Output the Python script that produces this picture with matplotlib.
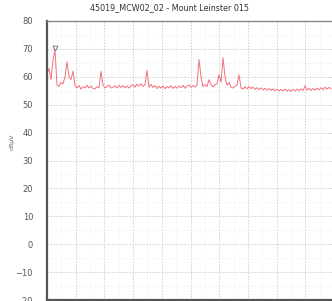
import numpy as np
import matplotlib
matplotlib.use("Agg")
import matplotlib.pyplot as plt
from matplotlib.ticker import MultipleLocator

title = "45019_MCW02_02 - Mount Leinster 015"
ylabel = "dBµV"
y_ticks = [-20, -10, 0, 10, 20, 30, 40, 50, 60, 70, 80]

# measured level per frequency bin (dBµV)
level = [
    61, 63, 59, 66, 69.6, 57, 56.5, 58, 57.5, 60,
    65.3, 60, 59, 62, 57, 56, 56.9, 55.6, 56.5, 56,
    57.0, 56.0, 56.7, 55.8, 55.7, 56.5, 56, 61.9, 57, 56,
    56.6, 57.0, 56.0, 56.2, 56.8, 56.0, 57.0, 56.2, 56.9, 56.0,
    56.7, 56, 56.8, 57.2, 56.3, 57.4, 56.6, 57.6, 56.5, 57.1,
    62.3, 56.2, 57.3, 56.2, 56.9, 55.8, 56.6, 55.9, 56.7, 55.7,
    56.5, 56.0, 56.8, 55.8, 56.6, 55.9, 56.7, 56.1, 57.0, 55.9,
    56.7, 57.1, 56.2, 56.9, 56.3, 57.1, 66.2, 60, 56.5, 57.2,
    56.5, 59, 57.3, 56.4, 57.1, 57.6, 60.7, 58, 66.8, 60,
    57, 58, 56.2, 56, 56.6, 57, 60.7, 56, 55.6, 56.4,
    55.7, 56.5, 55.8, 56.3, 55.5, 56.1, 55.4, 56.0, 55.3, 55.9,
    55.2, 55.8, 55.1, 55.7, 55.0, 55.6, 54.9, 55.5, 55.0, 55.6,
    54.9, 55.4, 54.8, 55.5, 54.9, 55.6, 55.0, 55.7, 55.1, 56.8,
    55.2, 55.9, 55.1, 55.8, 55.2, 56.0, 55.3, 56.1, 55.4, 56.3,
    55.6, 56.2, 55.7,
]
bin_width = 2 / 28.7
freq = np.arange(len(level)) * bin_width
peak_idx = 4

fig = plt.figure(figsize=(3.32, 3.01), dpi=100)
ax = fig.add_axes([47 / 332, 1 / 301, 290 / 332, 279 / 301])

ax.plot(freq, level, color="#f2707c", lw=0.7)
ax.plot([freq[peak_idx]], [level[peak_idx] + 0.8], marker="v", ms=3.5,
        mfc="white", mec="#777777", mew=0.7, ls="none")

ax.set_xlim(0, 290 / 28.7)
ax.set_ylim(-20, 80)
ax.set_yticks(y_ticks)
ax.yaxis.set_minor_locator(MultipleLocator(5))
ax.xaxis.set_major_locator(MultipleLocator(1))
ax.xaxis.set_minor_locator(MultipleLocator(0.5))
ax.tick_params(axis="y", length=0, pad=10, labelsize=6, labelcolor="#555555")
ax.tick_params(axis="x", length=0, labelbottom=False)
ax.tick_params(which="minor", length=0)

ax.grid(which="major", color="#d0d0d0", ls=(0, (1.5, 1.5)), lw=0.7)
ax.grid(which="minor", color="#eeeeee", ls=(0, (1.5, 1.5)), lw=0.5)
ax.set_axisbelow(True)

for s in ["left", "bottom"]:
    ax.spines[s].set_color("#555555")
    ax.spines[s].set_linewidth(1.6)
ax.spines["top"].set_color("#888888")
ax.spines["top"].set_linewidth(1.0)
ax.spines["right"].set_visible(False)

fig.text(170 / 332, 1 - 8 / 301, title, ha="center", va="center",
         fontsize=5.8, color="#333333")
fig.text(12 / 332, 1 - 142 / 301, ylabel, ha="center", va="center",
         rotation=90, fontsize=4.5, color="#666666")

fig.savefig("out.png", dpi=100)
